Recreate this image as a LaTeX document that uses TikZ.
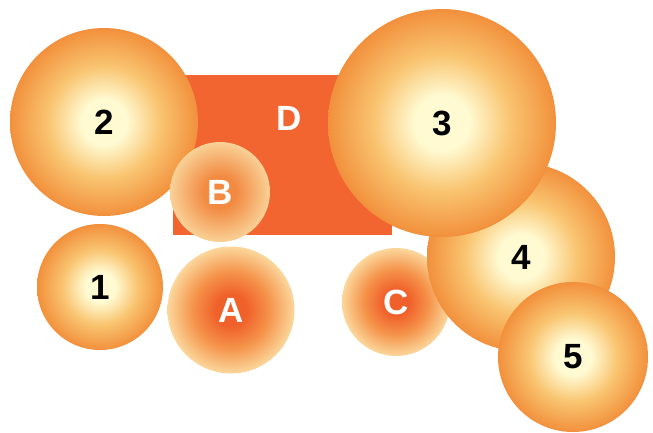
\documentclass[tikz,border=0pt]{standalone}
\usepackage{fontspec}
\setmainfont{Liberation Sans}
\definecolor{numin}{HTML}{FFFAD2}
\definecolor{nummid}{HTML}{F9C470}
\definecolor{numout}{HTML}{F2903C}
\definecolor{letin}{HTML}{F0602A}
\definecolor{letmid}{HTML}{F5934A}
\definecolor{letout}{HTML}{FBD79C}
\definecolor{bin}{HTML}{F28A42}
\definecolor{bout}{HTML}{F9D196}
\definecolor{dfill}{HTML}{F26430}
\pgfdeclareradialshading{numshade}{\pgfpoint{0bp}{0bp}}{color(0bp)=(numin); color(6bp)=(numin); color(15bp)=(nummid); color(25bp)=(numout); color(50bp)=(numout)}
\pgfdeclareradialshading{letshade}{\pgfpoint{0bp}{0bp}}{color(0bp)=(letin); color(6bp)=(letin); color(15bp)=(letmid); color(25bp)=(letout); color(50bp)=(letout)}
\pgfdeclareradialshading{bshade}{\pgfpoint{0bp}{0bp}}{color(0bp)=(bin); color(8bp)=(bin); color(25bp)=(bout); color(50bp)=(bout)}
\begin{document}
\begin{tikzpicture}[x=1pt,y=-1pt,
  numball/.style={circle,shading=numshade,minimum size=#1,inner sep=0pt,
    font=\fontsize{35}{35}\selectfont\bfseries,text=black},
  letball/.style={circle,shading=letshade,minimum size=#1,inner sep=0pt,
    font=\fontsize{35}{35}\selectfont\bfseries,text=white},
  bball/.style={circle,shading=bshade,minimum size=#1,inner sep=0pt,
    font=\fontsize{35}{35}\selectfont\bfseries,text=white},
  rectlabel/.style={font=\fontsize{35}{35}\selectfont\bfseries,text=white}]
\useasboundingbox[fill=white] (0,0) rectangle (653,433);
\fill[dfill] (173,75) rectangle (392,235);
\node[rectlabel] (D) at (289,118) {D};
\node[numball=188pt] (n2) at (104,122) {2};
\node[bball=100pt] (B) at (220,192) {B};
\node[numball=126pt] (n1) at (100,287) {1};
\node[letball=127pt] (A) at (231,310) {A};
\node[letball=108pt] (C) at (396,302) {C};
\node[numball=188pt] (n4) at (521,257) {4};
\node[numball=228pt] (n3) at (442,123) {3};
\node[numball=150pt] (n5) at (573,357) {5};
\end{tikzpicture}
\end{document}
